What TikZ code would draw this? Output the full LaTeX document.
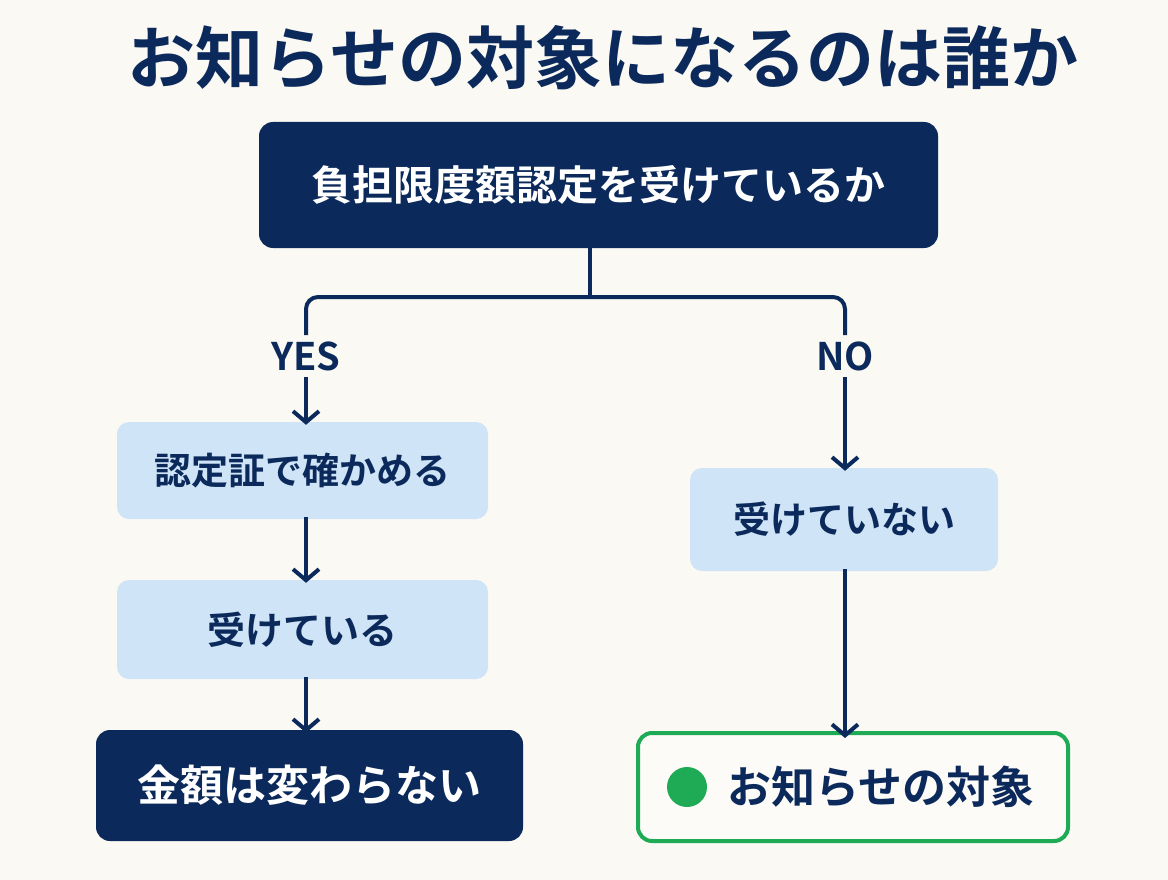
\documentclass[tikz,border=0pt]{standalone}
\usepackage{fontspec}
\setmainfont{Noto Sans CJK JP}[BoldFont={Noto Sans CJK JP Bold}]
\usetikzlibrary{arrows.meta}
\definecolor{navy}{HTML}{0B2A5B}
\definecolor{lblue}{HTML}{CFE4F7}
\definecolor{bg}{HTML}{FBF9F3}
\definecolor{grn}{HTML}{1FAA55}
\newcommand{\fs}[1]{\bfseries\fontsize{#1}{#1}\selectfont}
\tikzset{
  darkbox/.style={fill=navy, rounded corners=14pt, text=white, align=center, inner sep=0pt},
  lightbox/.style={fill=lblue, rounded corners=12pt, text=navy, align=center, inner sep=0pt},
  conn/.style={draw=navy, line width=4pt},
  arr/.style={conn, -{Straight Barb[length=11pt,width=26pt]}},
  lbl/.style={text=navy, font=\fs{38}, inner sep=6pt},
}
\begin{document}
\begin{tikzpicture}[x=1pt, y=-1pt]
\fill[bg] (0,0) rectangle (1168,880);
\useasboundingbox (0,0) rectangle (1168,880);
\node[text=navy, font=\fs{68}] (title) at (603,58) {お知らせの対象になるのは誰か};
\node[darkbox, minimum width=679pt, minimum height=126pt, font=\fs{41}] (top) at (598.5,185) {負担限度額認定を受けているか};
\node[lightbox, minimum width=371pt, minimum height=97pt, font=\fs{37}] (b1) at (302.5,470.5) {認定証で確かめる};
\node[lightbox, minimum width=371pt, minimum height=99pt, font=\fs{38}] (b2) at (302.5,629.5) {受けている};
\node[darkbox, minimum width=427pt, minimum height=111pt, font=\fs{43}] (b3) at (309.5,785.5) {金額は変わらない};
\node[lightbox, minimum width=308pt, minimum height=103pt, font=\fs{37}] (r1) at (844,519.5) {受けていない};
\node[draw=grn, line width=4pt, fill=bg!60!white, rounded corners=14pt, minimum width=430pt, minimum height=108pt] (r2) at (853,787) {};
\node[circle, fill=grn, minimum size=40pt, inner sep=0pt] (dot) at (687,787) {};
\node[text=navy, font=\fs{44}, inner sep=0pt] (r2t) at (881,787) {お知らせの対象};
\node[lbl] (yes) at (306,356) {YES};
\node[lbl] (no) at (845,356) {NO};
\coordinate (split) at (590,297);
\draw[conn] (top.south -| split) -- (split);
\draw[conn, rounded corners=12pt] (yes.north) |- (split) -| (no.north);
\draw[arr] (yes.south) -- ([yshift=-3pt]b1.north -| yes.south);
\draw[arr] (no.south) -- ([yshift=-3pt]r1.north -| no.south);
\draw[arr] ([yshift=2pt]b1.south -| yes.south) -- ([yshift=-3pt]b2.north -| yes.south);
\draw[arr] ([yshift=2pt]b2.south -| yes.south) -- ([yshift=-3pt]b3.north -| yes.south);
\draw[arr] ([yshift=2pt]r1.south -| no.south) -- ([yshift=-7pt]r2.north -| no.south);
\end{tikzpicture}
\end{document}
